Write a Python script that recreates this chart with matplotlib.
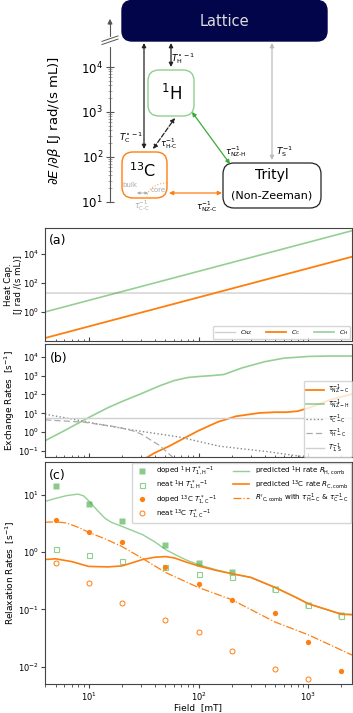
import matplotlib
matplotlib.use('Agg')
import matplotlib.pyplot as plt
from matplotlib.patches import FancyBboxPatch, Arc
from matplotlib.ticker import NullLocator
import numpy as np

# ---- panel (a): heat capacities
cap_field = [4, 2500]
cap_H = [1.0, 3.9e5]
cap_C = [0.016, 6.3e3]
cap_nz_field = [4, 300, 2500]
cap_NZ = [20, 20, 18.5]

# ---- panel (b): exchange rates
nzh_field = [4, 6, 10, 15, 20, 30, 45, 60, 80, 100, 130, 170, 250, 400, 600, 1000, 1500, 2500]
tau_nzh = [0.35, 1.2, 6, 20, 42, 110, 300, 550, 800, 900, 1000, 1150, 2600, 5500, 8500, 10500, 11000, 11000]
nzc_field = [30, 40, 54, 75, 100, 150, 220, 360, 500, 630, 800, 1000, 1550, 2500]
tau_nzc = [0.03, 0.08, 0.18, 0.5, 1.2, 3.5, 7, 10.5, 11.5, 11.5, 13, 19, 50, 105]
cc_field = [4, 7, 12.6, 25, 67, 155, 440, 900, 1500]
tau_cc = [9, 5, 2.6, 1.3, 0.55, 0.18, 0.09, 0.05, 0.03]
hc_field = [4, 9, 18, 25, 30, 44, 58, 80]
tau_hc = [4.5, 3.4, 1.9, 1.2, 0.8, 0.2, 0.048, 0.005]
t1s_field = [4, 2500]
t1s = [6, 6]

# ---- panel (c): relaxation rates
meas_field = [5, 10, 20, 50, 100, 200, 500, 1000, 2000]
doped_H = [13.9, 6.9, 3.5, 1.3, 0.63, 0.45, 0.23, 0.12, 0.079]
neat_H = [1.14, 0.88, 0.71, 0.55, 0.41, 0.37, 0.23, 0.12, 0.077]
doped_C = [3.6, 2.2, 1.48, 0.55, 0.28, 0.146, 0.087, 0.027, 0.0083]
neat_C_field = [5, 10, 20, 50, 100, 200, 500, 1000]
neat_C = [0.63, 0.29, 0.128, 0.065, 0.041, 0.0186, 0.0092, 0.0062]

predH_field = [4, 5, 6.3, 8, 9, 10, 11.5, 12.6, 14, 16, 20, 31, 40, 51, 65, 78, 100,
               150, 200, 300, 500, 780, 1000, 1450, 2000, 2500]
pred_H = [7.6, 8.6, 9.6, 10.2, 9.5, 7.8, 5.8, 4.8, 3.9, 3.3, 2.8, 2.0, 1.5, 1.08, 0.85, 0.72, 0.6,
          0.48, 0.42, 0.36, 0.24, 0.16, 0.125, 0.1, 0.083, 0.081]
predC_field = [4, 5, 7, 10, 15, 20, 25, 31, 40, 50, 60, 75, 100,
               150, 200, 300, 500, 780, 1000, 1450, 2000, 2500]
pred_C = [0.74, 0.76, 0.68, 0.56, 0.55, 0.57, 0.65, 0.74, 0.81, 0.83, 0.79, 0.68, 0.57,
          0.47, 0.42, 0.36, 0.24, 0.16, 0.125, 0.1, 0.082, 0.081]
dd_field = [4, 5, 6.3, 8, 10, 14, 20, 30, 50, 100, 200, 350, 500, 1000, 2500]
pred_C2 = [3.3, 3.35, 3.2, 2.7, 2.2, 1.7, 1.25, 0.8, 0.44, 0.24, 0.148, 0.085, 0.06, 0.036, 0.016]

ORANGE = '#ff7f0e'
GREEN = '#2ca02c'
LGREEN = '#8fcf8f'
NAVY = '#03054b'

fig = plt.figure(figsize=(3.53, 7.13), dpi=100)

# ================= schematic =================
ax0 = fig.add_axes([0, 1 - 215 / 713, 1, 215 / 713])
ax0.set_xlim(0, 353)
ax0.set_ylim(0.711, 5.489)
for s in ['top', 'right', 'bottom']:
    ax0.spines[s].set_visible(False)
ax0.spines['left'].set_position(('data', 110))
ax0.spines['left'].set_bounds(1, 5.0)
ax0.spines['left'].set_color('#555555')
ax0.xaxis.set_visible(False)
ax0.set_yticks([1, 2, 3, 4])
ax0.set_yticklabels([r'$10^{1}$', r'$10^{2}$', r'$10^{3}$', r'$10^{4}$'])
minor = [np.log10(k * 10.0 ** n) for n in range(1, 4) for k in range(2, 10)]
ax0.set_yticks(minor, minor=True)
ax0.tick_params(axis='y', which='major', direction='inout', length=6, labelsize=8.5,
                color='#555555', pad=2)
ax0.tick_params(axis='y', which='minor', direction='inout', length=3, color='#888888', width=0.5)
ax0.set_ylabel(r'$\partial E\,/\partial\beta$ [J rad/(s mL)]', fontsize=9.5)
ax0.yaxis.set_label_coords(63 / 353, 0.44)
ax0.annotate('', xy=(110, 5.07), xytext=(110, 4.95),
             arrowprops=dict(arrowstyle='-|>', color='#555555', lw=0.8, mutation_scale=7,
                             shrinkA=0, shrinkB=0))
# axis break
ax0.plot([110, 110], [4.5, 4.62], color='white', lw=3, zorder=3)
for off in (0.0, 0.07):
    ax0.plot([102, 118], [4.5 + off, 4.62 + off], color='#555555', lw=0.7, zorder=4)


def L(ypx):
    return 1 + (202 - ypx) / 45.0


def rbox(x0, x1, y0, y1, r, **kw):
    p = FancyBboxPatch((x0, L(y1)), x1 - x0, L(y0) - L(y1),
                       boxstyle='round,pad=0,rounding_size=%g' % r,
                       mutation_aspect=1 / 45.0, **kw)
    ax0.add_patch(p)


rbox(122, 327, 0.5, 41, 10, facecolor=NAVY, edgecolor=NAVY)
ax0.text(224, L(21), 'Lattice', color='#dddddd', fontsize=10.5, ha='center', va='center')
rbox(148, 194, 70, 116, 11, facecolor='white', edgecolor=LGREEN, lw=1.0)
ax0.text(171, L(94), r'$^{1}$H', fontsize=12, ha='center', va='center')
rbox(122, 167, 152, 198, 11, facecolor='white', edgecolor=ORANGE, lw=1.0)
ax0.text(143, L(171), r'$^{13}$C', fontsize=11.5, ha='center', va='center')
rbox(223, 321, 163, 208, 11, facecolor='white', edgecolor='#222222', lw=0.9)
ax0.text(272, L(175), 'Trityl', fontsize=10, ha='center', va='center')
ax0.text(272, L(196), '(Non-Zeeman)', fontsize=8, ha='center', va='center')

ax0.text(130, L(185), 'bulk', fontsize=5, color='#aaaaaa', ha='center', va='center')
ax0.text(158, L(190), 'core', fontsize=5, color='#aaaaaa', ha='center', va='center')
ax0.add_patch(Arc((167, L(197)), 40, 28 / 45.0, theta1=90, theta2=180,
                  color=ORANGE, lw=0.8, ls=':', alpha=0.7))
ax0.annotate('', xy=(137, L(193)), xytext=(148, L(193)),
             arrowprops=dict(arrowstyle='<|-|>', color='#aaaaaa', lw=0.6, mutation_scale=4,
                             shrinkA=0, shrinkB=0))
ax0.text(142, L(206), r'$\tau_{\rm C\text{-}C}^{-1}$', fontsize=5.5, color='#aaaaaa',
         ha='center', va='center')


def dbl(x0, y0, x1, y1, color, ls='-', lw=0.9):
    ax0.annotate('', xy=(x1, L(y1)), xytext=(x0, L(y0)),
                 arrowprops=dict(arrowstyle='<|-|>', color=color, lw=lw, ls=ls,
                                 mutation_scale=6, shrinkA=0, shrinkB=0))


dbl(144, 43, 144, 149, '#222222')
dbl(171, 43, 171, 67, '#222222')
dbl(153, 149, 175, 118, '#222222', ls='--')
dbl(192, 112, 230, 164, '#3aaa3a')
dbl(272, 43, 272, 160, '#bbbbbb')
dbl(169, 193, 222, 193, ORANGE)

ax0.text(131, L(138), r'$T_{\rm C}^{\circ\,-1}$', fontsize=6.5, ha='center', va='center')
ax0.text(183, L(59), r'$T_{\rm H}^{\circ\,-1}$', fontsize=6.5, ha='center', va='center')
ax0.text(169, L(144), r'$\tau_{\rm H\text{-}C}^{-1}$', fontsize=6, ha='center', va='center')
ax0.text(236, L(152), r'$\tau_{\rm NZ\text{-}H}^{-1}$', fontsize=6, ha='center', va='center')
ax0.text(284, L(152), r'$T_{\rm S}^{-1}$', fontsize=6.5, ha='center', va='center')
ax0.text(207, L(207), r'$\tau_{\rm NZ\text{-}C}^{-1}$', fontsize=6, ha='center', va='center')

# ================= data panels =================
left, width = 45 / 353, 307 / 353
axa = fig.add_axes([left, 1 - 341 / 713, width, 113 / 713])
axb = fig.add_axes([left, 1 - 457 / 713, width, 113 / 713], sharex=axa)
axc = fig.add_axes([left, 1 - 684 / 713, width, 222 / 713], sharex=axa)

for ax in (axa, axb, axc):
    ax.set_xscale('log')
    ax.set_yscale('log')
    for s in ax.spines.values():
        s.set_color('#444444')
    ax.tick_params(labelsize=6, which='both', color='#444444', pad=1.5)
    ax.tick_params(which='major', length=3)
    ax.tick_params(which='minor', length=1.8)
    ax.yaxis.set_minor_locator(NullLocator())
axa.set_xlim(4, 2500)

# (a)
axa.plot(cap_nz_field, cap_NZ, color='#d0d0d0', lw=1.0, label=r'$C_{\rm NZ}$')
axa.plot(cap_field, cap_C, color=ORANGE, lw=1.3, label=r'$C_{\rm C}$')
axa.plot(cap_field, cap_H, color=GREEN, alpha=0.5, lw=1.2, label=r'$C_{\rm H}$')
axa.set_ylim(1e-2, 6e5)
axa.set_yticks([1, 1e2, 1e4])
axa.yaxis.set_minor_locator(NullLocator())
axa.tick_params(axis='x', which='both', direction='in', labelbottom=False)
axa.set_ylabel('Heat Cap.\n[J rad /(s mL)]', fontsize=6.2, linespacing=1.1)
axa.yaxis.set_label_coords(-22 / 307, 0.5)
axa.text(0.013, 0.89, '(a)', transform=axa.transAxes, fontsize=9, va='center')
axa.legend(loc='lower right', ncol=3, fontsize=4.5, handlelength=3.2, columnspacing=2.2,
           borderaxespad=0.3, borderpad=0.3, handletextpad=0.8, framealpha=0.8)

# (b)
axb.plot(nzc_field, tau_nzc, color=ORANGE, lw=1.3, label=r'$\tau^{-1}_{\rm NZ-C}$')
axb.plot(nzh_field, tau_nzh, color=GREEN, alpha=0.5, lw=1.2, label=r'$\tau^{-1}_{\rm NZ-H}$')
axb.plot(cc_field, tau_cc, color='#888888', lw=1.0, ls=':', label=r'$\tau^{-1}_{\rm C-C}$')
axb.plot(hc_field, tau_hc, color='#aaaaaa', lw=0.9, ls=(0, (5, 2.5)), label=r'$\tau^{-1}_{\rm H-C}$')
axb.plot(t1s_field, t1s, color='#d0d0d0', lw=1.0, label=r'$T^{-1}_{1,\rm S}$')
axb.set_ylim(0.048, 4.8e4)
axb.set_yticks([1e-1, 1, 1e1, 1e2, 1e3, 1e4])
axb.yaxis.set_minor_locator(NullLocator())
axb.tick_params(axis='x', which='both', direction='in', labelbottom=False)
axb.set_ylabel(r'Exchange Rates  [s$^{-1}$]', fontsize=6.5)
axb.yaxis.set_label_coords(-28 / 307, 0.5)
axb.text(0.015, 0.875, '(b)', transform=axb.transAxes, fontsize=9, va='center')
axb.legend(loc='lower right', fontsize=4.8, handlelength=2.8, borderaxespad=0.05,
           borderpad=0.3, labelspacing=0.2, handletextpad=0.6, framealpha=0.8)

# (c)
axc.plot(meas_field, doped_H, ls='none', marker='s', ms=3.8, color=GREEN, alpha=0.55,
         mec='none', label=r'doped $^1$H $T^*_{1,\rm H}{}^{-1}$')
axc.plot(meas_field, neat_H, ls='none', marker='s', ms=3.6, mfc='white', mec=LGREEN,
         mew=0.8, label=r'neat $^1$H $T^*_{1,\rm H}{}^{-1}$')
axc.plot(meas_field, doped_C, ls='none', marker='o', ms=3.8, color=ORANGE, mec='none',
         label=r'doped $^{13}$C $T^*_{1,\rm C}{}^{-1}$')
axc.plot(neat_C_field, neat_C, ls='none', marker='o', ms=3.6, mfc='white', mec=ORANGE,
         mew=0.7, label=r'neat $^{13}$C $T^*_{1,\rm C}{}^{-1}$')
axc.plot(predH_field, pred_H, color=GREEN, alpha=0.5, lw=1.0,
         label=r'predicted $^1$H rate $R_{\rm H,comb}$')
axc.plot(predC_field, pred_C, color=ORANGE, lw=1.2,
         label=r'predicted $^{13}$C rate $R_{\rm C,comb}$')
axc.plot(dd_field, pred_C2, color=ORANGE, lw=0.9, ls='-.',
         label=r"$R'_{\rm C,comb}$ with $\tau^{-1}_{\rm H-C}$ & $\tau^{-1}_{\rm C-C}$")
axc.set_ylim(0.005, 37)
axc.set_yticks([1e-2, 1e-1, 1, 1e1])
axc.yaxis.set_minor_locator(NullLocator())
axc.set_ylabel(r'Relaxation Rates  [s$^{-1}$]', fontsize=6.5)
axc.yaxis.set_label_coords(-28 / 307, 0.5)
axc.set_xlabel('Field  [mT]', fontsize=6.5, labelpad=0)
axc.text(0.013, 0.94, '(c)', transform=axc.transAxes, fontsize=9, va='center')
axc.legend(loc='upper right', ncol=2, fontsize=5.1, handlelength=2.2, borderaxespad=0.1,
           borderpad=0.35, labelspacing=0.15, columnspacing=2.2, handletextpad=0.9,
           framealpha=0.8)

fig.savefig('out.png', dpi=100)
